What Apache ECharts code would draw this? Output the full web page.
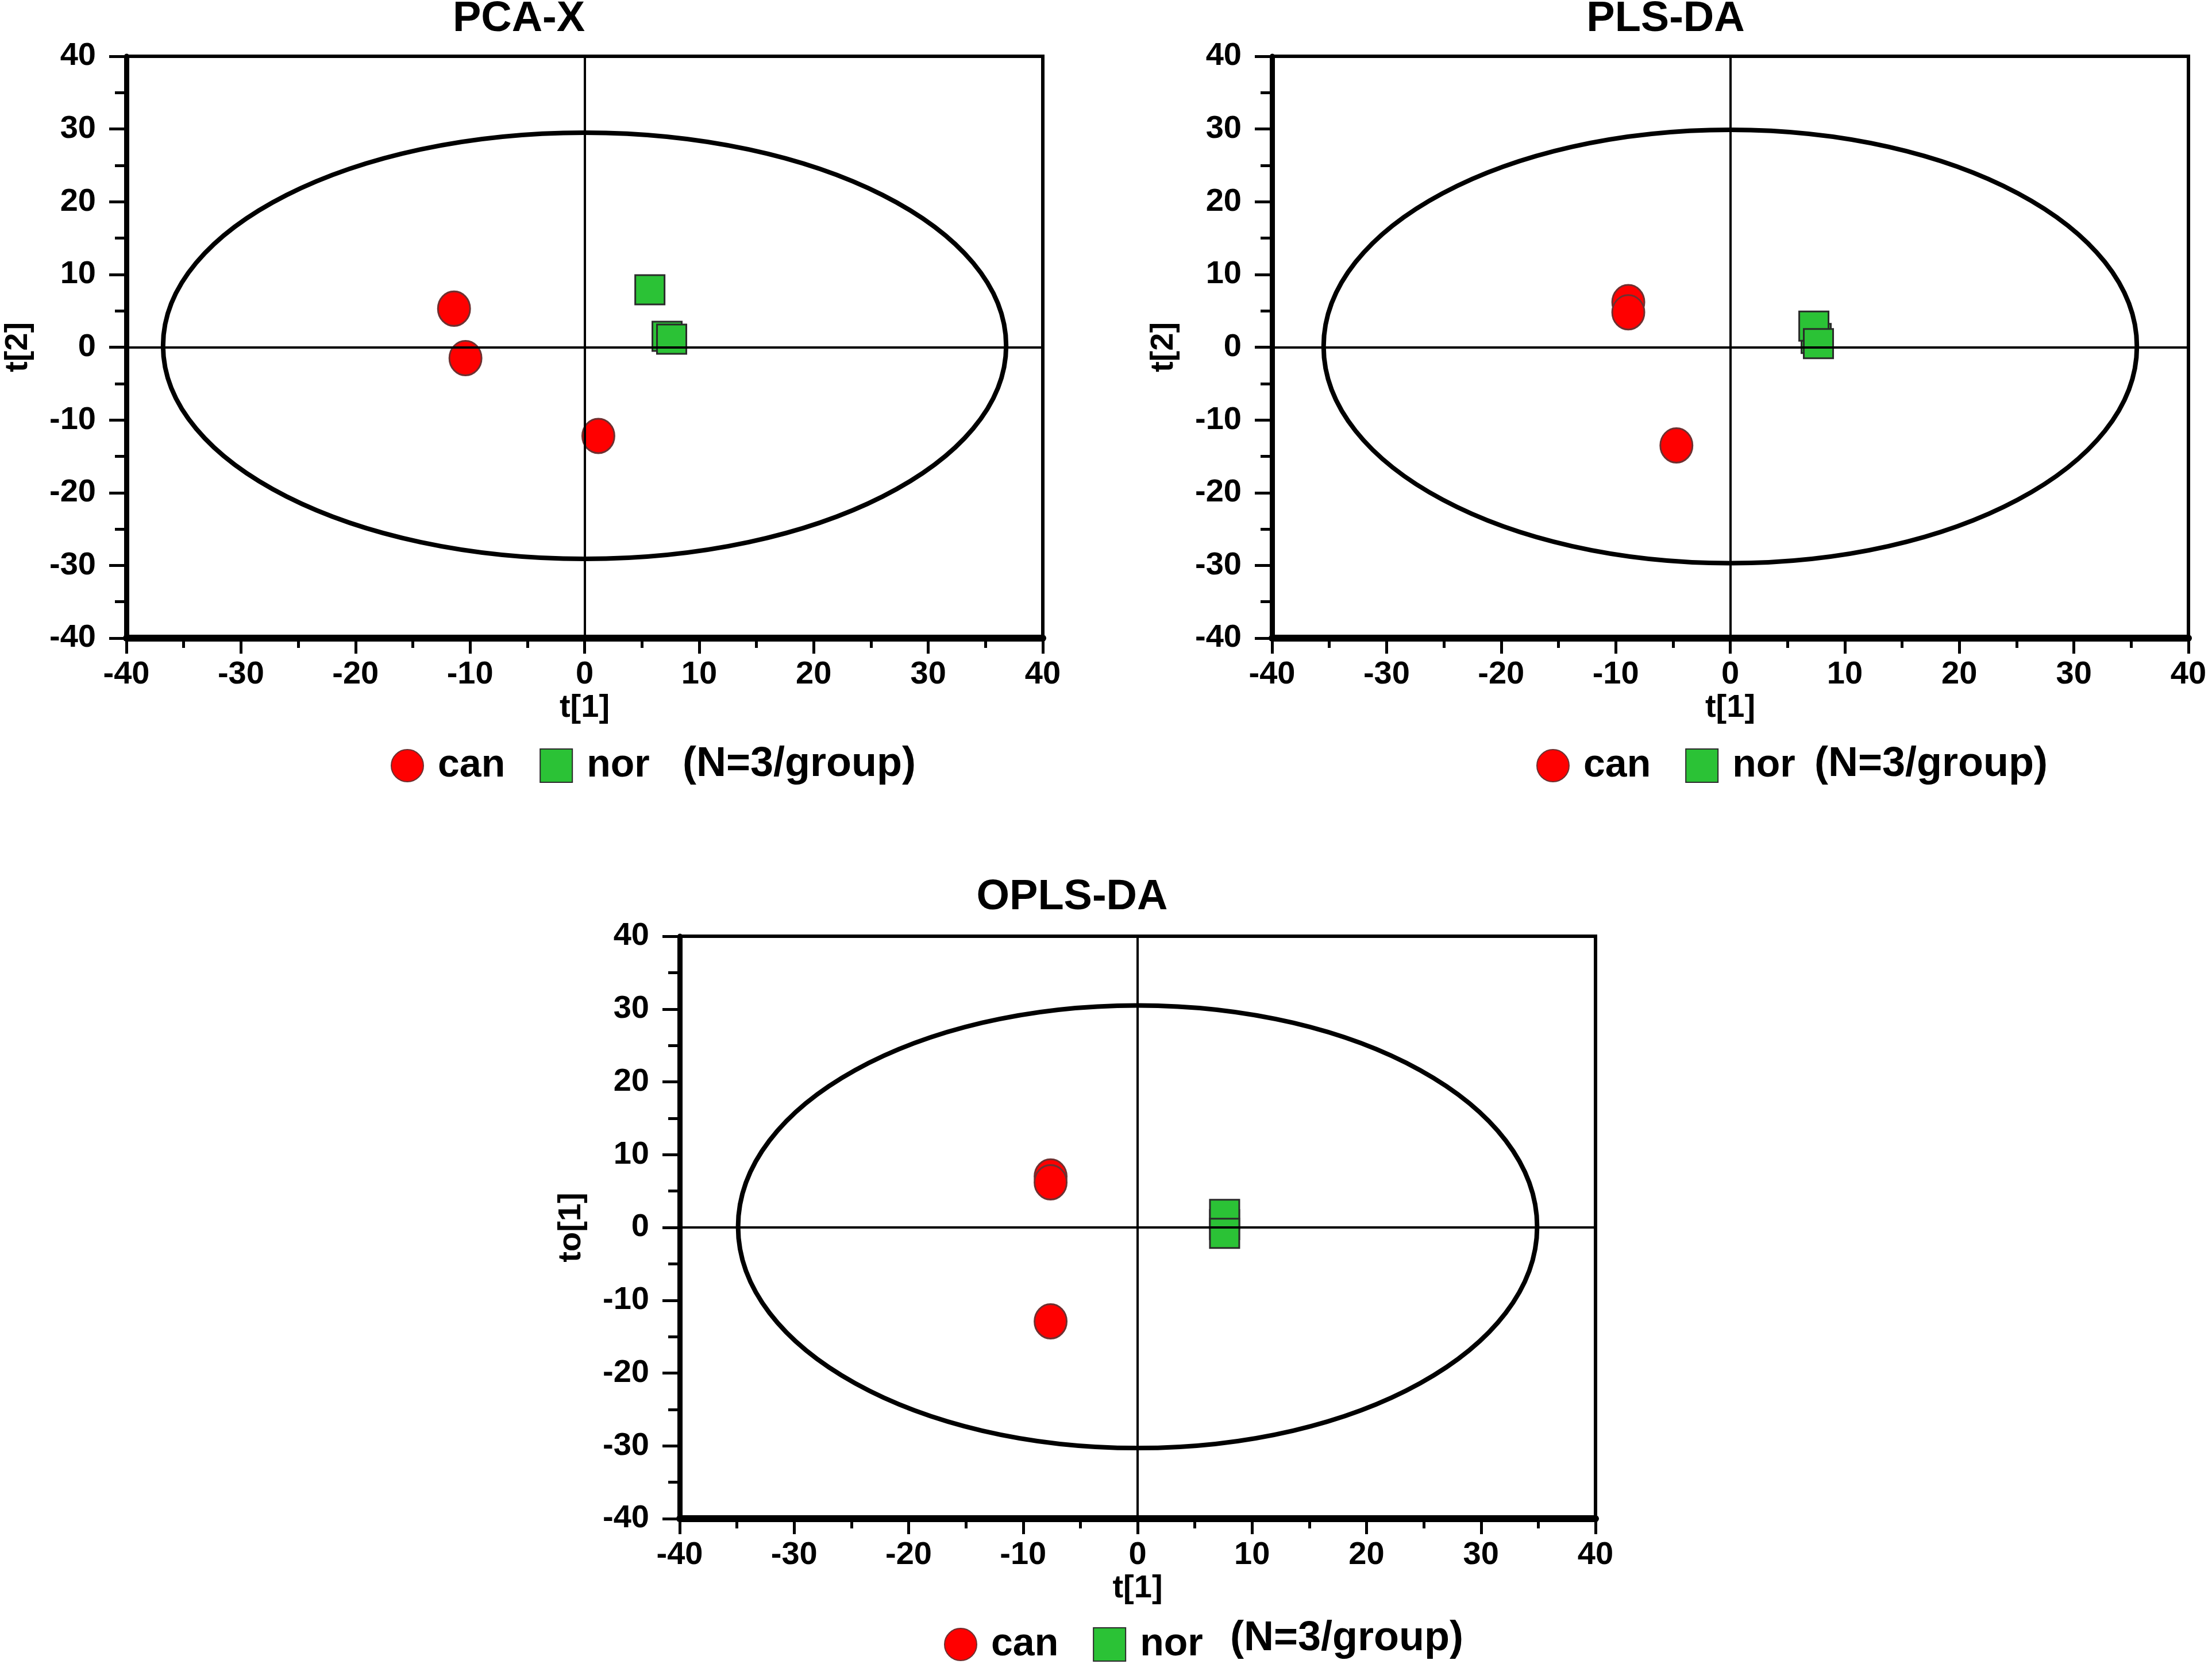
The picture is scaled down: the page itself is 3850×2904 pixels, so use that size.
<!DOCTYPE html>
<html>
<head>
<meta charset="utf-8">
<script src="https://cdn.jsdelivr.net/npm/echarts@6.0.0/dist/echarts.min.js"></script>
<style>
html, body { margin: 0; padding: 0; background: #fff; }
#main { width: 3850px; height: 2904px; }
</style>
</head>
<body>
<div id="main"></div>
<script>
// score plot values
var panelTitles = ['PCA-X', 'PLS-DA', 'OPLS-DA'];
var yNames = ['t[2]', 't[2]', 'to[1]'];
var xName = 't[1]';
var groupNames = ['can', 'nor'];
var groupNote = '(N=3/group)';

var pcaCan = [[-11.4, 5.3], [-10.4, -1.5], [1.2, -12.2]];
var pcaNor = [[7.2, 1.5], [5.7, 7.9], [7.6, 1.1]];
var pcaEllipse = [0, 0.2, 36.8, 29.3];   // centre x, centre y, half width, half height

var plsCan = [[-8.9, 6.2], [-8.9, 4.8], [-4.7, -13.5]];
var plsNor = [[7.5, 1.2], [7.3, 2.9], [7.7, 0.5]];
var plsEllipse = [0, 0.1, 35.5, 29.8];

var oplsCan = [[-7.6, 7.0], [-7.6, 6.2], [-7.6, -12.9]];
var oplsNor = [[7.6, 0.4], [7.6, 1.8], [7.6, -0.8]];
var oplsEllipse = [0, 0.1, 34.9, 30.4];

var canData = [pcaCan, plsCan, oplsCan];
var norData = [pcaNor, plsNor, oplsNor];
var ellipses = [pcaEllipse, plsEllipse, oplsEllipse];

var font = '"Liberation Sans", Arial, sans-serif';

var grids = [
    {left: 220, top: 98, width: 1595, height: 1013},
    {left: 2214, top: 98, width: 1595, height: 1013},
    {left: 1183, top: 1630, width: 1594, height: 1014}
];

function boldText(size) {
    return {fontFamily: font, fontWeight: 'bold', fontSize: size, color: '#000'};
}

var xAxes = [], yAxes = [], series = [];

for (var i = 0; i < 3; i++) {
    grids[i].show = true;
    grids[i].borderColor = '#000';
    grids[i].borderWidth = 6;
    grids[i].backgroundColor = '#fff';

    xAxes.push({
        gridIndex: i,
        type: 'value',
        min: -40,
        max: 40,
        interval: 10,
        name: xName,
        nameLocation: 'middle',
        nameGap: 94,
        nameTextStyle: boldText(56),
        axisLine: {show: true, onZero: false, lineStyle: {color: '#000', width: 12}},
        axisTick: {show: true, inside: false, length: 27, lineStyle: {color: '#000', width: 5}},
        minorTick: {show: true, splitNumber: 2, length: 17, lineStyle: {color: '#000', width: 5}},
        axisLabel: Object.assign({margin: 36}, boldText(56)),
        splitLine: {show: false},
        minorSplitLine: {show: false}
    });

    yAxes.push({
        gridIndex: i,
        type: 'value',
        min: -40,
        max: 40,
        interval: 10,
        name: yNames[i],
        nameLocation: 'middle',
        nameGap: 160,
        nameRotate: 90,
        nameTextStyle: boldText(56),
        axisLine: {show: true, onZero: false, lineStyle: {color: '#000', width: 9}},
        axisTick: {show: true, inside: false, length: 30, lineStyle: {color: '#000', width: 5}},
        minorTick: {show: true, splitNumber: 2, length: 20, lineStyle: {color: '#000', width: 5}},
        axisLabel: Object.assign({margin: 53}, boldText(56)),
        splitLine: {show: false},
        minorSplitLine: {show: false}
    });

    // confidence ellipse + zero lines
    series.push({
        type: 'custom',
        xAxisIndex: i,
        yAxisIndex: i,
        z: 1,
        silent: true,
        data: [ellipses[i]],
        renderItem: function (params, api) {
            var c = api.coord([api.value(0), api.value(1)]);
            var s = api.size([api.value(2), api.value(3)]);
            return {
                type: 'ellipse',
                shape: {cx: c[0], cy: c[1], rx: s[0], ry: s[1]},
                style: {fill: 'none', stroke: '#000', lineWidth: 8}
            };
        },
        markLine: {
            silent: true,
            symbol: ['none', 'none'],
            label: {show: false},
            lineStyle: {color: '#000', width: 4, type: 'solid'},
            data: [{xAxis: 0}, {yAxis: 0}]
        }
    });

    series.push({
        name: groupNames[0],
        type: 'scatter',
        xAxisIndex: i,
        yAxisIndex: i,
        z: 3,
        symbol: 'circle',
        symbolSize: [56, 60],
        itemStyle: {color: '#ff0000', borderColor: '#6e3030', borderWidth: 3, opacity: 1},
        data: canData[i]
    });

    series.push({
        name: groupNames[1],
        type: 'scatter',
        xAxisIndex: i,
        yAxisIndex: i,
        z: 3,
        symbol: 'rect',
        symbolSize: 51,
        itemStyle: {color: '#2bc236', borderColor: '#2a2a2a', borderWidth: 3, opacity: 1},
        data: norData[i]
    });
}

function makeLegend(left, top) {
    return {
        data: groupNames,
        left: left,
        top: top,
        orient: 'horizontal',
        selectedMode: false,
        itemWidth: 56,
        itemHeight: 58,
        itemGap: 60,
        textStyle: Object.assign({padding: [0, 0, 0, 20]}, boldText(68))
    };
}

function label(text, x, y, size, align) {
    return {
        type: 'text',
        x: x,
        y: y,
        style: {
            text: text,
            fontFamily: font,
            fontWeight: 'bold',
            fontSize: size,
            fill: '#000',
            align: align,
            verticalAlign: 'middle'
        }
    };
}

var option = {
    animation: false,
    backgroundColor: '#fff',
    grid: grids,
    xAxis: xAxes,
    yAxis: yAxes,
    series: series,
    legend: [
        makeLegend(675, 1294),
        makeLegend(2669, 1294),
        makeLegend(1638, 2824)
    ],
    graphic: [
        label(panelTitles[0], 903, 34, 74, 'center'),
        label(panelTitles[1], 2899, 34, 74, 'center'),
        label(panelTitles[2], 1866, 1563, 74, 'center'),
        label(groupNote, 1188, 1331, 72, 'left'),
        label(groupNote, 3158, 1331, 72, 'left'),
        label(groupNote, 2141, 2853, 72, 'left')
    ]
};

var chart = echarts.init(document.getElementById('main'));
chart.setOption(option);
</script>
</body>
</html>
